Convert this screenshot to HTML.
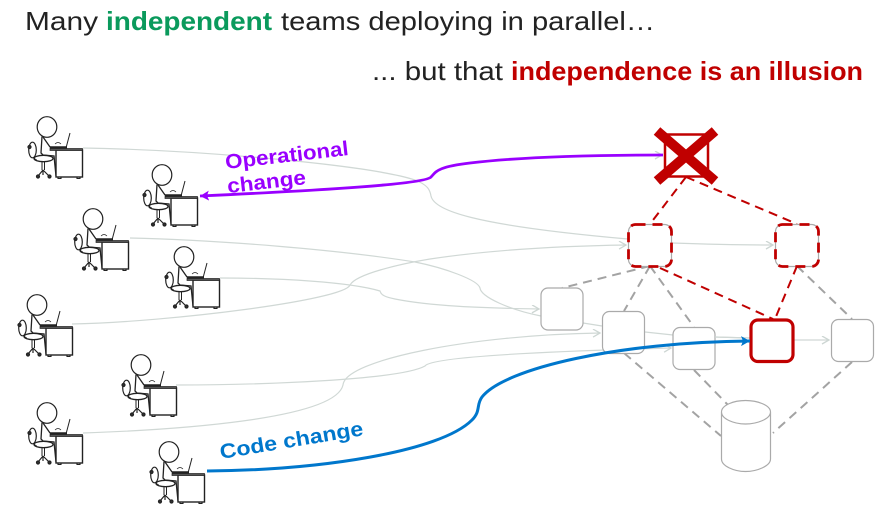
<!DOCTYPE html>
<html>
<head>
<meta charset="utf-8">
<style>
html,body{margin:0;padding:0;background:#fff;width:889px;height:519px;overflow:hidden}
svg{display:block;position:absolute;left:0;top:0}
text{font-family:"Liberation Sans",sans-serif}
</style>
</head>
<body>
<svg width="889" height="519" viewBox="0 0 889 519">
<defs>
<marker id="ag" markerWidth="10" markerHeight="10" refX="8" refY="4" orient="auto" markerUnits="userSpaceOnUse"><path d="M1,0 L8,4 L1,8" fill="none" stroke="#cdd6d3" stroke-width="1.3"/></marker>
<marker id="ap" markerWidth="12" markerHeight="12" refX="9" refY="5" orient="auto" markerUnits="userSpaceOnUse"><path d="M0,0 L9,5 L0,10 L2,5 Z" fill="#9900ff"/></marker>
<marker id="ab" markerWidth="12" markerHeight="12" refX="9" refY="5" orient="auto" markerUnits="userSpaceOnUse"><path d="M0,0 L9,5 L0,10 L2,5 Z" fill="#0077cc"/></marker>
<g id="p" fill="none" stroke="#222" stroke-width="1.2">
<ellipse cx="0" cy="0" rx="9.8" ry="10.3" fill="#fff"/>
<path d="M-5,9.500 L-6,26 L-4,28 L7,29 L9,49" stroke-width="1.300"/>
<path d="M-4,10 L3,20 L19,21" stroke-width="1.300"/>
<path d="M23,6 L19,21" stroke-width="1"/>
<path d="M3,20.500 L20,20.500" stroke-width="2.600"/>
<path d="M8,17 q3,-3 6,0" stroke-width="0.700"/>
<rect x="9" y="23" width="26.500" height="27" fill="#fff" stroke-width="1.400"/>
<rect x="3" y="21.500" width="32.500" height="2" fill="#555" stroke="#222" stroke-width="0.700"/>
<path d="M11,50 v1.500 h3 v-1.500 M30,50 v1.500 h3 v-1.500" stroke-width="1.100"/>
<ellipse cx="-3.500" cy="31.500" rx="9.500" ry="3.200" fill="#fff" stroke-width="1.300"/>
<ellipse cx="-14.500" cy="23" rx="3.800" ry="7.800" stroke-width="1.200"/>
<circle cx="-17.500" cy="20" r="1.500" fill="#333"/>
<path d="M-13,30 Q-12,33 -10,33" stroke-width="0.900"/>
<path d="M-2.500,34.500 V43 M-5,34.500 V43" stroke-width="1"/>
<path d="M-4,43 L-9,49 M-4,43 L2,49 M-4,43 L-4,48" stroke-width="1.200"/>
<circle cx="-9" cy="49.500" r="1.500" fill="#333"/>
<circle cx="2.500" cy="49.500" r="1.500" fill="#333"/>
</g>
</defs>

<g fill="none" stroke="#d0d8d5" stroke-width="1.200">
<path d="M83,148 C200,150 370,165 415,180 C428,185 430,190 431,196 C434,210 470,225 628,239"/>
<path d="M130,238 C220,240 340,250 415,262 C445,268 478,280 480,288 C481,297 510,310 541,316"/>
<path d="M583,323 L602,326"/>
<path d="M220,278 C280,278 350,282 380,291 C381,295 385,297 395,299 C430,306 480,308 539,309" marker-end="url(#ag)"/>
<path d="M72,324 C170,322 345,300 350,285 C356,274 400,264 430,259 C490,250 560,246 626,245" marker-end="url(#ag)"/>
<path d="M176,385 C260,385 400,380 425,366 C430,358 520,352 671,348" marker-end="url(#ag)"/>
<path d="M83,433 C170,430 335,420 343,385 C345,360 470,335 600,333" marker-end="url(#ag)"/>
<path d="M672,243 C700,244 740,245 773,245" marker-end="url(#ag)"/>
<path d="M645,332 L673,335 M715,337 L750,338"/>
<path d="M794,340 L829,340" marker-end="url(#ag)"/>
<path d="M600,155 L662,155" marker-end="url(#ag)"/>
</g>

<use href="#p" x="47" y="127"/>
<use href="#p" x="162" y="175"/>
<use href="#p" x="93" y="219"/>
<use href="#p" x="184" y="257"/>
<use href="#p" x="37" y="305"/>
<use href="#p" x="141" y="365"/>
<use href="#p" x="47" y="413"/>
<use href="#p" x="169" y="452"/>

<g fill="none" stroke="#a3a3a3" stroke-width="2" stroke-dasharray="9 6">
<path d="M650,266 L562,288"/>
<path d="M650,266 L624,311"/>
<path d="M650,266 L694,327"/>
<path d="M797,266 L852,319"/>
<path d="M624,353 L721,436"/>
<path d="M694,370 L728,405"/>
<path d="M852,362 L773,433"/>
</g>
<g fill="none" stroke="#c00000" stroke-width="2" stroke-dasharray="9 6">
<path d="M686,177 L650,224"/>
<path d="M686,177 L797,224"/>
<path d="M660,268 L773,319"/>
<path d="M797,266 L775,319"/>
</g>

<g fill="#fff" stroke="#aaa" stroke-width="1.200">
<rect x="541" y="288" width="42" height="42" rx="7"/>
<rect x="602.500" y="311.500" width="42" height="42" rx="7"/>
<rect x="673" y="327.500" width="42" height="42" rx="7"/>
<rect x="831.500" y="319.500" width="42" height="42" rx="7"/>
<path d="M721.500,412 V459 C721.500,466 734,471.500 745.500,471.500 C757,471.500 770.500,466 770.500,459 V412 C770.500,405 757,400.500 745.500,400.500 C734,400.500 721.500,405 721.500,412 C721.500,419 734,424 745.500,424 C757,424 770.500,419 770.500,412"/>
<rect x="628.500" y="224.500" width="43" height="42" rx="7"/>
<rect x="775.500" y="224.500" width="43" height="42" rx="7"/>
</g>
<path d="M715,337 L750,338" fill="none" stroke="#d0d8d5" stroke-width="1.200"/>
<g fill="none" stroke="#c00000">
<rect x="628.500" y="224.500" width="43" height="42" rx="7" stroke-width="2.800" stroke-dasharray="10 7"/>
<rect x="775.500" y="224.500" width="43" height="42" rx="7" stroke-width="2.800" stroke-dasharray="10 7"/>
<rect x="751" y="320" width="42" height="41.500" rx="7" stroke-width="3.200"/>
<rect x="665" y="134.500" width="43" height="42" rx="2" stroke-width="2.500"/>
<path d="M657,131 L715,181 M715,131 L657,181" stroke-width="10"/>
</g>

<path d="M663,155 C590,155 520,157 470,163 C436,167 436,172 431,177 C425,184 330,190 200,196" fill="none" stroke="#9900ff" stroke-width="2.800" marker-end="url(#ap)"/>
<path d="M207,471 C320,470 440,452 472,420 C481,411 476,405 482,397 C505,368 620,342 750,341" fill="none" stroke="#0077cc" stroke-width="3" marker-end="url(#ab)"/>

<text x="25" y="30" font-size="26" fill="#222" textLength="73" lengthAdjust="spacingAndGlyphs">Many</text>
<text x="106" y="30" font-size="26" font-weight="bold" fill="#0a9a5c" textLength="166" lengthAdjust="spacingAndGlyphs">independent</text>
<text x="281" y="30" font-size="26" fill="#222" textLength="374" lengthAdjust="spacingAndGlyphs">teams deploying in parallel…</text>
<text x="372" y="80" font-size="26" fill="#222" textLength="131" lengthAdjust="spacingAndGlyphs">... but that</text>
<text x="511" y="80" font-size="26" font-weight="bold" fill="#c00000" textLength="352" lengthAdjust="spacingAndGlyphs">independence is an illusion</text>

<text transform="translate(226,169) rotate(-6.500)" font-size="20.500" font-weight="bold" fill="#9900ff" textLength="124" lengthAdjust="spacingAndGlyphs">Operational</text>
<text transform="translate(228,193) rotate(-6.500)" font-size="20.500" font-weight="bold" fill="#9900ff" textLength="79" lengthAdjust="spacingAndGlyphs">change</text>
<text transform="translate(221,459) rotate(-9.500)" font-size="20.500" font-weight="bold" fill="#0077cc" textLength="145" lengthAdjust="spacingAndGlyphs">Code change</text>
</svg>
</body>
</html>
